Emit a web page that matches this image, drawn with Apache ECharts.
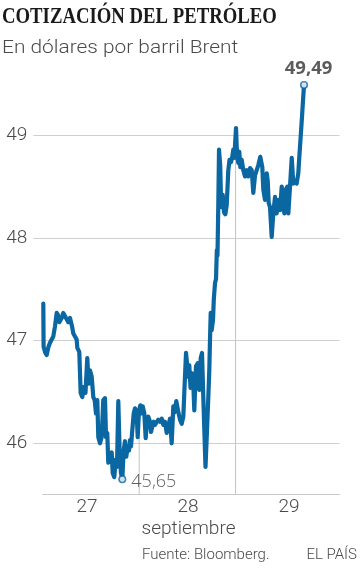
<!DOCTYPE html>
<html><head><meta charset="utf-8">
<script src="https://cdn.jsdelivr.net/npm/echarts@6/dist/echarts.min.js"></script>
<style>html,body{margin:0;padding:0;background:#fff}#c{width:360px;height:569px}</style>
</head><body><div id="c"></div>
<script>
// Time in hours since 27 Sep 00:00 (approx.), Brent price in USD
const hours = [1.62,1.69,2.02,2.42,2.85,3.21,3.99,4.40,4.80,5.11,
5.42,5.99,6.37,7.01,7.56,7.96,8.44,8.75,9.15,9.55,
9.70,10.17,10.50,10.88,11.29,11.64,12.07,12.40,12.71,13.12,
13.50,13.83,14.14,14.45,14.69,15.09,15.49,15.87,16.28,16.52,
16.82,17.06,17.47,17.87,18.11,18.49,18.82,19.13,19.44,19.77,
20.08,20.39,20.72,21.03,21.34,21.67,21.98,22.22,22.46,22.77,
23.10,23.41,23.81,24.05,24.36,24.67,25.00,25.24,25.62,25.95,
26.26,26.57,26.97,27.21,27.52,27.85,28.16,28.56,28.94,29.35,
29.75,30.13,30.54,30.94,31.32,31.72,32.13,32.51,32.79,33.22,
33.63,34.10,34.51,34.89,35.12,35.53,35.84,36.07,36.31,36.60,
36.95,37.26,37.50,37.90,38.31,38.69,39.02,39.33,39.64,39.88,
40.16,40.52,40.83,41.06,41.23,41.40,41.63,41.94,42.13,42.42,
42.66,42.85,43.01,43.20,43.37,43.65,43.89,44.25,44.56,44.87,
45.20,45.58,45.86,46.22,46.53,46.77,47.00,47.41,47.65,47.96,
48.19,48.43,48.76,49.14,49.55,49.95,50.33,50.74,51.14,51.52,
51.93,52.33,52.71,53.18,53.66,53.90,54.30,54.71,54.94,55.18,
55.49,55.89,56.27,56.68,57.08,57.46,57.87,58.27,58.65,58.89,
59.22,59.60,59.84,60.24,60.65,61.03,61.43,61.83,62.21,62.45,
62.78,63.09,63.33,63.57];
const prices = [47.36,46.94,46.89,46.86,46.94,46.98,47.04,47.14,47.27,47.25,
47.18,47.22,47.27,47.22,47.18,47.22,47.14,47.07,47.08,47.01,
46.93,46.89,46.49,46.45,46.55,46.49,46.83,46.58,46.71,46.65,
46.45,46.42,46.29,46.42,46.06,46.00,46.06,46.42,46.44,46.06,
46.10,45.81,45.87,45.91,45.71,45.67,45.84,45.77,46.41,45.90,
45.71,45.65,45.93,46.02,45.87,45.97,45.93,46.03,45.97,46.13,
46.29,46.34,46.29,46.06,46.32,46.37,46.29,46.36,46.29,46.05,
46.23,46.26,46.21,46.11,46.16,46.21,46.18,46.19,46.23,46.21,
46.24,46.18,46.21,46.10,46.16,46.24,46.00,46.36,46.30,46.41,
46.32,46.23,46.19,46.26,46.49,46.88,46.89,46.65,46.76,46.54,
46.68,46.58,46.32,46.75,46.78,46.52,46.83,46.88,46.45,46.13,
45.77,46.13,46.45,46.71,47.01,47.27,47.10,47.20,47.40,47.56,
47.60,47.88,47.83,48.32,48.86,48.71,48.30,48.42,48.25,48.23,
48.32,48.66,48.76,48.74,48.79,48.86,48.78,49.07,48.81,48.73,
48.84,48.69,48.76,48.66,48.60,48.66,48.60,48.68,48.66,48.44,
48.61,48.66,48.71,48.79,48.69,48.47,48.37,48.63,48.56,48.34,
48.30,48.01,48.24,48.40,48.24,48.37,48.27,48.50,48.34,48.24,
48.47,48.50,48.24,48.50,48.78,48.53,48.56,48.53,48.63,48.79,
48.99,49.18,49.34,49.49];
const dayLabelHours = [12, 36, 60];
const dayLabels = ['27', '28', '29'];
const dayBreakHours = [24.4, 47.3];
const yTicks = [46, 47, 48, 49];
const xMin = 1.5, xMax = 72;
const yMin = 45.5, yMax = 49.75;

const titleText = 'COTIZACIÓN DEL PETRÓLEO';
const subtitleText = 'En dólares por barril Brent';
const xAxisName = 'septiembre';
const sourceText = 'Fuente: Bloomberg.';
const brandText = 'EL PAÍS';

const BLUE = '#0a67a2';
const TEXT = '#4a4a4a';
const GRID = '#cfcfcf';
const SANS = 'Roboto';
const NUM = '"Open Sans"';

function fmt(v) { return v.toFixed(2).replace('.', ','); }
// lowest price close to a day break: the grey break line runs up to the curve
function lowNear(h) {
  let lo = Infinity;
  hours.forEach((t, i) => { if (Math.abs(t - h) <= 0.4) lo = Math.min(lo, prices[i]); });
  return lo;
}

const lineData = hours.map((h, i) => [h, prices[i]]);
let minIdx = 0;
prices.forEach((p, i) => { if (p < prices[minIdx]) minIdx = i; });
const lastIdx = prices.length - 1;

const chart = echarts.init(document.getElementById('c'), null, {renderer: 'canvas'});

const breakSeries = dayBreakHours.map(b => ({
  type: 'line', xAxisIndex: 1, yAxisIndex: 1, silent: true, z: 1,
  symbol: 'none', animation: false,
  lineStyle: {color: '#c4c4c4', width: 1},
  data: [[b, yMin], [b, lowNear(b)]]
}));

chart.setOption({
  animation: false,
  grid: [
    {left: 33.3, right: 20.5, top: 58.3, bottom: 74.4, outerBoundsMode: 'none'},
    {left: 42.8, right: 20.5, top: 58.3, bottom: 74.4, outerBoundsMode: 'none'}
  ],
  xAxis: [
    {gridIndex: 0, type: 'value', min: xMin, max: xMax, show: false},
    {gridIndex: 1, type: 'value', min: xMin, max: xMax,
     axisLine: {show: true, lineStyle: {color: '#c8c8c8', width: 1}},
     axisTick: {show: false, customValues: dayLabelHours},
     splitLine: {show: false},
     axisLabel: {customValues: dayLabelHours, margin: 13, verticalAlign: 'middle',
       fontFamily: SANS, fontWeight: 300, fontSize: 19, color: TEXT,
       formatter: v => dayLabels[dayLabelHours.indexOf(v)] || ''}}
  ],
  yAxis: [
    {gridIndex: 0, type: 'value', min: yMin, max: yMax,
     axisLine: {show: false},
     axisTick: {show: false, customValues: yTicks},
     splitLine: {show: true, lineStyle: {color: GRID, width: 1}},
     axisLabel: {customValues: yTicks, margin: 6, fontFamily: SANS, fontWeight: 300,
       fontSize: 19, color: TEXT, formatter: v => String(v)}},
    {gridIndex: 1, type: 'value', min: yMin, max: yMax, show: false, splitLine: {show: false}}
  ],
  series: breakSeries.concat([
    {type: 'line', xAxisIndex: 1, yAxisIndex: 1, z: 3, symbol: 'none', silent: true,
     lineStyle: {color: BLUE, width: 4.2, join: 'round', cap: 'round'},
     data: lineData},
    {type: 'scatter', xAxisIndex: 1, yAxisIndex: 1, z: 5, symbol: 'circle', symbolSize: 6.5,
     silent: true,
     itemStyle: {color: '#ffffff', borderColor: BLUE, borderWidth: 1.6},
     data: [
       {value: lineData[minIdx], label: {show: true, position: 'right', distance: 5,
         offset: [0, 3], formatter: fmt(prices[minIdx]), fontFamily: NUM, fontWeight: 300,
         fontSize: 18, color: '#3a3a3a'}},
       {value: lineData[lastIdx], label: {show: true, position: 'top', distance: 3,
         offset: [4.5, 0], formatter: fmt(prices[lastIdx]), fontFamily: NUM, fontWeight: 'bold',
         fontSize: 18.5, color: '#333333'}}
     ]}
  ]),
  graphic: [
    {type: 'text', x: 2, y: 17.4, scaleX: 0.833, silent: true,
     style: {text: titleText, font: 'bold 22.5px "Liberation Serif"', fill: '#1a1a1a',
       align: 'left', verticalAlign: 'middle'}},
    {type: 'text', x: 2, y: 48.2, scaleX: 1.16, silent: true,
     style: {text: subtitleText, font: '300 18px ' + SANS, fill: TEXT,
       align: 'left', verticalAlign: 'middle'}},
    {type: 'text', x: 188.5, y: 530, scaleX: 1.09, silent: true,
     style: {text: xAxisName, font: '300 17.5px ' + SANS, fill: TEXT,
       align: 'center', verticalAlign: 'middle'}},
    {type: 'text', x: 142, y: 555, silent: true,
     style: {text: sourceText, font: '300 15px ' + SANS, fill: TEXT,
       align: 'left', verticalAlign: 'middle'}},
    {type: 'text', x: 357, y: 555, silent: true,
     style: {text: brandText, font: '300 15px ' + SANS, fill: TEXT,
       align: 'right', verticalAlign: 'middle'}}
  ]
});
</script>
</body></html>
